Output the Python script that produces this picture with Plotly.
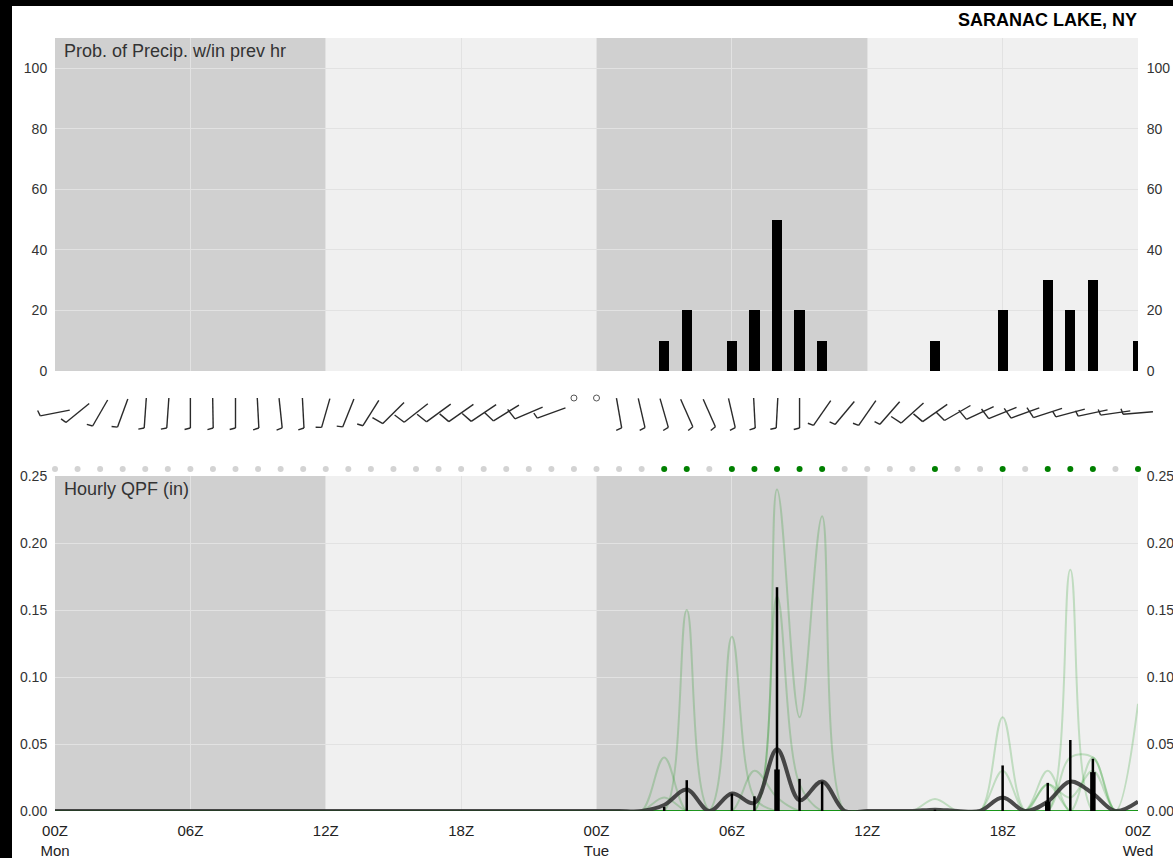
import math
import plotly.graph_objects as go

# ---------------- data ----------------
hours = list(range(49))
tick_hours = [0, 6, 12, 18, 24, 30, 36, 42, 48]
tick_labels = ["00Z<br>Mon", "06Z", "12Z", "18Z", "00Z<br>Tue", "06Z", "12Z", "18Z", "00Z<br>Wed"]

shade_start = [0, 12, 24, 36]
shade_end = [12, 24, 36, 48]
shade_color = ["#d0d0d0", "#f0f0f0", "#d0d0d0", "#f0f0f0"]

# probability of precip (%)
pop = [0, 0, 0, 0, 0, 0, 0, 0, 0, 0,
       0, 0, 0, 0, 0, 0, 0, 0, 0, 0,
       0, 0, 0, 0, 0, 0, 0, 10, 20, 0,
       10, 20, 50, 20, 10, 0, 0, 0, 0, 10,
       0, 0, 20, 0, 30, 20, 30, 0, 10]

# hourly QPF (in): ensemble mean (thick grey line)
qpf_mean = [0, 0, 0, 0, 0, 0, 0, 0, 0, 0,
            0, 0, 0, 0, 0, 0, 0, 0, 0, 0,
            0, 0, 0, 0, 0, 0, 0, 0.0045, 0.016, 0,
            0.013, 0.006, 0.046, 0.008, 0.022, 0, 0, 0, 0, 0.001,
            0, 0, 0.010, 0, 0.007, 0.022, 0.013, 0, 0.007]

# thin black bars
qpf_high = [0, 0, 0, 0, 0, 0, 0, 0, 0, 0,
            0, 0, 0, 0, 0, 0, 0, 0, 0, 0,
            0, 0, 0, 0, 0, 0, 0, 0.003, 0.023, 0,
            0.013, 0.011, 0.167, 0.024, 0.022, 0, 0, 0, 0, 0.001,
            0, 0, 0.034, 0, 0.021, 0.053, 0.039, 0, 0]

# thick black bars
qpf_mid = [0, 0, 0, 0, 0, 0, 0, 0, 0, 0,
           0, 0, 0, 0, 0, 0, 0, 0, 0, 0,
           0, 0, 0, 0, 0, 0, 0, 0, 0, 0,
           0, 0, 0.031, 0, 0, 0, 0, 0, 0, 0,
           0, 0, 0, 0, 0.007, 0, 0.029, 0, 0]

# ensemble members (hour: QPF); hours not listed are 0
qpf_members = [
    {27: 0.04},
    {28: 0.15},
    {30: 0.13, 31: 0.01},
    {32: 0.24, 33: 0.07, 34: 0.22},
    {32: 0.16, 33: 0.02},
    {27: 0.01, 31: 0.03, 32: 0.01},
    {39: 0.009, 42: 0.03, 44: 0.02},
    {42: 0.07},
    {45: 0.18},
    {45: 0.04, 46: 0.04},
    {44: 0.03, 46: 0.04, 48: 0.08},
    {44: 0.02, 45: 0.01, 46: 0.03},
]

# wind: direction (deg, from) and speed (kt); 0 kt = calm
wind_dir = [259, 231, 210, 200, 184, 184, 180, 179, 180, 177,
            174, 177, 196, 202, 212, 225, 232, 234, 235, 236,
            238, 247, 250, 0, 0, 170, 167, 164, 156, 156,
            167, 177, 183, 180, 215, 220, 215, 221, 228, 235,
            240, 245, 248, 250, 252, 255, 258, 262, 265]
wind_kt = [5, 5, 5, 5, 5, 5, 5, 5, 5, 5,
           5, 5, 5, 5, 5, 10, 10, 10, 10, 10,
           10, 10, 5, 0, 0, 5, 5, 5, 5, 5,
           5, 5, 5, 5, 5, 5, 5, 5, 10, 10,
           10, 10, 10, 10, 10, 5, 5, 5, 5]

# ---------------- layout geometry (px) ----------------
W, H = 1173, 858
ML, MR, MT, MB = 20, 10, 20, 40
PW, PH = W - ML - MR, H - MT - MB


def fx(px):
    return (px - ML) / PW


def fy(py):
    return (H - MB - py) / PH


X0, X1 = 55, 1138
TOP_Y0, TOP_Y1 = 38, 371
BOT_Y0, BOT_Y1 = 476, 811
STR_Y0, STR_Y1 = 372, 476
PXH = (X1 - X0) / 48.0
STR_H = STR_Y1 - STR_Y0

BARB_CY = STR_Y1 - 413
CALM_Y = STR_Y1 - 398
DOT_Y = STR_Y1 - 469
STAFF = 30.0
FULL, HALF = 12.0, 6.0
FONT = "Liberation Sans, Arial, sans-serif"

fig = go.Figure()

# PoP bars
fig.add_trace(go.Bar(x=hours, y=pop, width=0.45, marker=dict(color="black", line=dict(width=0)),
                     xaxis="x", yaxis="y", hoverinfo="x+y"))
# invisible trace so that the right-hand PoP axis is drawn
fig.add_trace(go.Scatter(x=hours, y=pop, mode="markers", marker=dict(opacity=0),
                         xaxis="x", yaxis="y2", hoverinfo="skip"))

# members
full_members = []
for m in qpf_members:
    full_members.append([m.get(h, 0) for h in hours])
for vals in full_members:
    fig.add_trace(go.Scatter(x=hours, y=vals, mode="lines",
                             line=dict(color="rgba(0,140,0,0.2)", width=2, shape="spline"),
                             xaxis="x2", yaxis="y3", hoverinfo="skip"))

# mean
fig.add_trace(go.Scatter(x=hours, y=qpf_mean, mode="lines",
                         line=dict(color="rgba(45,45,45,0.85)", width=4, shape="spline"),
                         xaxis="x2", yaxis="y3"))
# invisible trace so that the right-hand QPF axis is drawn
fig.add_trace(go.Scatter(x=hours, y=qpf_mean, mode="markers", marker=dict(opacity=0),
                         xaxis="x2", yaxis="y4", hoverinfo="skip"))


def seg(vals):
    xs, ys = [], []
    for h, v in zip(hours, vals):
        if v > 0:
            xs += [h, h, None]
            ys += [0, v, None]
    return xs, ys


xs, ys = seg(qpf_high)
fig.add_trace(go.Scatter(x=xs, y=ys, mode="lines", line=dict(color="black", width=2.5),
                         xaxis="x2", yaxis="y3"))
xs, ys = seg(qpf_mid)
fig.add_trace(go.Scatter(x=xs, y=ys, mode="lines", line=dict(color="black", width=5.5),
                         xaxis="x2", yaxis="y3"))

# wind barbs
bx, by = [], []
for h, d, s in zip(hours, wind_dir, wind_kt):
    if s <= 0:
        continue
    th = math.radians(d)
    ux, uy = math.sin(th), math.cos(th)
    ex, ey = ux * STAFF / 2, uy * STAFF / 2
    bx += [h - ex / PXH, h + ex / PXH, None]
    by += [BARB_CY - ey, BARB_CY + ey, None]
    tt = math.radians(d + 75)
    tx, ty = math.sin(tt), math.cos(tt)
    n_full, rem = divmod(int(s), 10)
    ticks = [FULL] * n_full + ([HALF] if rem >= 5 else [])
    for i, L in enumerate(ticks):
        ox = ex - ux * 4 * i
        oy = ey - uy * 4 * i
        bx += [h + ox / PXH, h + (ox + tx * L) / PXH, None]
        by += [BARB_CY + oy, BARB_CY + oy + ty * L, None]
fig.add_trace(go.Scatter(x=bx, y=by, mode="lines", line=dict(color="#2a2a2a", width=1.4),
                         xaxis="x3", yaxis="y5", hoverinfo="skip"))

calm_h = [h for h, s in zip(hours, wind_kt) if s == 0]
fig.add_trace(go.Scatter(x=calm_h, y=[CALM_Y] * len(calm_h), mode="markers",
                         marker=dict(symbol="circle-open", size=6, color="#555555", line=dict(width=1)),
                         xaxis="x3", yaxis="y5", cliponaxis=False))

dot_col = ["#008000" if p > 0 else "#d3d3d3" for p in pop]
fig.add_trace(go.Scatter(x=hours, y=[DOT_Y] * len(hours), mode="markers",
                         marker=dict(size=6, color=dot_col),
                         xaxis="x3", yaxis="y5", cliponaxis=False))

# shapes: white page area over black border, then day/night shading
shapes = [dict(type="rect", xref="paper", yref="paper", x0=fx(12), x1=fx(W + 30), y0=fy(H + 30), y1=fy(6),
               fillcolor="white", line=dict(width=0), layer="below")]
for a, b, c in zip(shade_start, shade_end, shade_color):
    for xr, yr in (("x", "y domain"), ("x2", "y3 domain")):
        shapes.append(dict(type="rect", xref=xr, yref=yr, x0=a, x1=b, y0=0, y1=1,
                           fillcolor=c, line=dict(width=0), layer="below"))

grid = "#e2e2e2"
tickfont = dict(family=FONT, size=14, color="#333333")
xdom = [fx(X0), fx(X1)]
ytop = [fy(TOP_Y1), fy(TOP_Y0)]
ybot = [fy(BOT_Y1), fy(BOT_Y0)]
ystr = [fy(STR_Y1), fy(STR_Y0)]

fig.update_layout(
    width=W, height=H, autosize=False,
    margin=dict(l=ML, r=MR, t=MT, b=MB, autoexpand=False),
    paper_bgcolor="black", plot_bgcolor="rgba(0,0,0,0)",
    showlegend=False, bargap=0,
    shapes=shapes,
    xaxis=dict(domain=xdom, range=[0, 48], anchor="y", tickvals=tick_hours, showticklabels=False,
               showgrid=True, gridcolor=grid, zeroline=False, ticks="", automargin=False),
    yaxis=dict(domain=ytop, range=[0, 110], tickvals=[0, 20, 40, 60, 80, 100], showgrid=True,
               gridcolor=grid, zeroline=False, tickfont=tickfont, ticks="outside", ticklen=4,
               tickcolor="rgba(0,0,0,0)", anchor="x", automargin=False),
    yaxis2=dict(domain=ytop, range=[0, 110], tickvals=[0, 20, 40, 60, 80, 100], overlaying="y",
                side="right", showgrid=False, zeroline=False, tickfont=tickfont, ticks="outside",
                ticklen=5, tickcolor="rgba(0,0,0,0)", anchor="x", automargin=False),
    xaxis2=dict(domain=xdom, range=[0, 48], anchor="y3", tickvals=tick_hours, ticktext=tick_labels,
                showgrid=True, gridcolor=grid, zeroline=False, ticks="outside", ticklen=6,
                tickcolor="rgba(0,0,0,0)", tickfont=dict(family=FONT, size=15, color="#222222"),
                automargin=False),
    yaxis3=dict(domain=ybot, range=[0, 0.25], tickvals=[0, 0.05, 0.10, 0.15, 0.20, 0.25],
                tickformat=".2f", showgrid=True, gridcolor=grid, zeroline=False, tickfont=tickfont,
                ticks="outside", ticklen=4, tickcolor="rgba(0,0,0,0)", anchor="x2", automargin=False),
    yaxis4=dict(domain=ybot, range=[0, 0.25], tickvals=[0, 0.05, 0.10, 0.15, 0.20, 0.25],
                tickformat=".2f", overlaying="y3", side="right", showgrid=False, zeroline=False,
                tickfont=tickfont, ticks="outside", ticklen=5, tickcolor="rgba(0,0,0,0)", anchor="x2",
                automargin=False),
    xaxis3=dict(domain=[0, 1], range=[(ML - X0) / PXH, (W - MR - X0) / PXH], anchor="y5",
                visible=False, fixedrange=True, automargin=False),
    yaxis5=dict(domain=ystr, range=[0, STR_H], visible=False, fixedrange=True, anchor="x3",
                automargin=False),
    annotations=[
        dict(text="<b>SARANAC LAKE, NY</b>", xref="paper", yref="paper", x=fx(1139), y=fy(20),
             xanchor="right", yanchor="middle", showarrow=False,
             font=dict(family=FONT, size=18, color="black")),
        dict(text="Prob. of Precip. w/in prev hr", xref="paper", yref="paper", x=fx(62), y=fy(39),
             xanchor="left", yanchor="top", showarrow=False,
             font=dict(family=FONT, size=18, color="#333333")),
        dict(text="Hourly QPF (in)", xref="paper", yref="paper", x=fx(62), y=fy(477),
             xanchor="left", yanchor="top", showarrow=False,
             font=dict(family=FONT, size=18, color="#333333")),
    ],
)

fig.write_html("out.html", config={"displayModeBar": False},
               post_script="document.body.style.margin='0';document.body.style.overflow='hidden';")
